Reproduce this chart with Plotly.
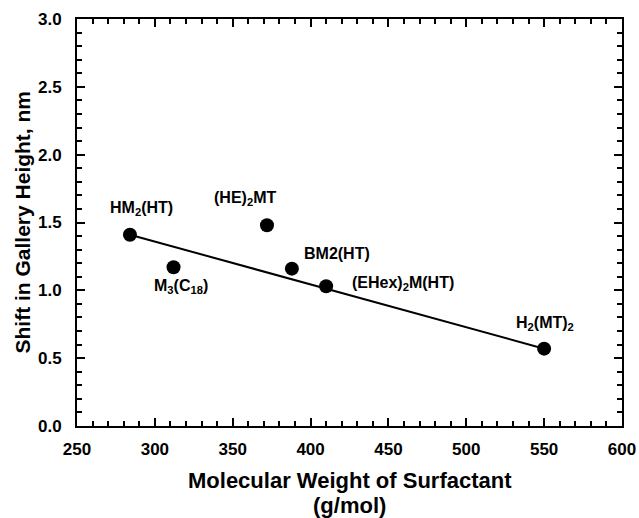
import plotly.graph_objects as go

# Data
labels = ["HM<sub>2</sub>(HT)", "M<sub>3</sub>(C<sub>18</sub>)", "(HE)<sub>2</sub>MT",
          "BM2(HT)", "(EHex)<sub>2</sub>M(HT)", "H<sub>2</sub>(MT)<sub>2</sub>"]
mol_weight = [284, 312, 372, 388, 410, 550]
shift_nm = [1.41, 1.17, 1.48, 1.16, 1.03, 0.57]

fit_x = [284, 550]
fit_y = [1.41, 0.57]

x_title_lines = ["Molecular Weight of Surfactant", "(g/mol)"]
y_title = "Shift in Gallery Height, nm"

# label offsets in pixels (style, not data)
label_shift_x = [12, 7, -22, 45, 77, 1]
label_shift_y = [26, -19, 27, 15, 3, 25]

FONT = "Liberation Sans, Arial, sans-serif"

fig = go.Figure()
fig.add_trace(go.Scatter(x=fit_x, y=fit_y, mode="lines",
                         line=dict(color="black", width=2), showlegend=False,
                         hoverinfo="skip"))
fig.add_trace(go.Scatter(x=mol_weight, y=shift_nm, mode="markers",
                         marker=dict(color="black", size=14), showlegend=False))

for lab, x, y, dx, dy in zip(labels, mol_weight, shift_nm, label_shift_x, label_shift_y):
    fig.add_annotation(x=x, y=y, text="<b>" + lab + "</b>", showarrow=False,
                       xshift=dx, yshift=dy,
                       font=dict(family=FONT, size=16, color="black"))

# axis titles as annotations
for line, shift in zip(x_title_lines, [-54, -79]):
    fig.add_annotation(xref="paper", yref="paper", x=0.5, y=0, yshift=shift,
                       xanchor="center", yanchor="middle", showarrow=False,
                       text="<b>" + line + "</b>",
                       font=dict(family=FONT, size=22, color="black"))
fig.add_annotation(xref="paper", yref="paper", x=0, y=0.5, xshift=-55,
                   xanchor="center", yanchor="middle", showarrow=False, textangle=-90,
                   text="<b>" + y_title + "</b>",
                   font=dict(family=FONT, size=21, color="black"))

axis_common = dict(showline=True, linecolor="black", linewidth=2, mirror="allticks",
                   ticks="inside", ticklen=8, tickwidth=2, tickcolor="black",
                   showgrid=False, zeroline=False, automargin=False,
                   tickfont=dict(family=FONT, size=17, color="black"))

fig.update_xaxes(range=[250, 600], dtick=50, tick0=250,
                 minor=dict(ticks="inside", dtick=10, ticklen=5, tickwidth=2, tickcolor="black"),
                 tickformat="d", ticklabelstandoff=7,
                 **axis_common)
fig.update_yaxes(range=[0, 3.0], dtick=0.5, tick0=0,
                 minor=dict(ticks="inside", dtick=0.1, ticklen=5, tickwidth=2, tickcolor="black"),
                 tickformat=".1f", ticklabelstandoff=10,
                 **axis_common)

fig.update_layout(width=639, height=518, margin=dict(l=77, r=17, t=19, b=92),
                  plot_bgcolor="white", paper_bgcolor="white",
                  font=dict(family=FONT, color="black"))
fig.update_xaxes(tickprefix="<b>", ticksuffix="</b>")
fig.update_yaxes(tickprefix="<b>", ticksuffix="</b>")

fig.write_html("out.html")
